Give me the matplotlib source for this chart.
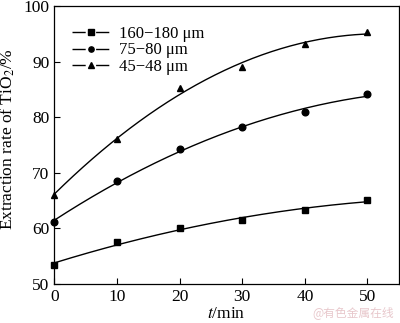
import numpy as np
import matplotlib
matplotlib.use("Agg")
import matplotlib.pyplot as plt
from matplotlib.lines import Line2D

# data
t_min = [0, 10, 20, 30, 40, 50]
rate_160_180 = [53.4, 57.6, 60.0, 61.5, 63.3, 65.1]
rate_75_80 = [61.2, 68.5, 74.2, 78.2, 80.9, 84.2]
rate_45_48 = [66.0, 76.1, 85.2, 89.0, 93.2, 95.3]
labels = ["160\u2212180 \u03bcm", "75\u221280 \u03bcm", "45\u221248 \u03bcm"]
markers = ["s", "o", "^"]

plt.rcParams['font.family'] = ['Liberation Serif', 'DejaVu Serif']
plt.rcParams['mathtext.fontset'] = 'stix'

fig = plt.figure(figsize=(4.0, 3.23), dpi=100)
ax = fig.add_axes([0.136, 0.121, 0.861, 0.860])

series = [rate_160_180, rate_75_80, rate_45_48]
t_fine = np.linspace(0, 50, 200)
handles = []
for vals, mk, lab in zip(series, markers, labels):
    # smooth fitted curve through the measured points
    coef = np.polyfit(t_min, vals, 2)
    ax.plot(t_fine, np.polyval(coef, t_fine), color='black', lw=1.0)
    ax.plot(t_min, vals, linestyle='none', marker=mk, color='black', markersize=4.8, clip_on=False)
    # legend handle: dash - marker - dash
    handles.append(Line2D([], [], color='black', lw=1.0, linestyle=(0, (9.5, 7.5)),
                          marker=mk, markersize=3.8))

ax.set_xlim(0, 55)
ax.set_ylim(50, 100)
ax.set_xticks([0, 10, 20, 30, 40, 50])
ax.set_yticks([50, 60, 70, 80, 90, 100])
ax.tick_params(direction='in', length=4, width=0.8, labelsize=12.5, top=False, right=False)
for s in ax.spines.values():
    s.set_linewidth(0.9)

ax.set_xlabel("$t$/min", fontsize=12.5, labelpad=1)
ax.set_ylabel("Extraction rate of TiO$_2$/%", fontsize=12.5)
ax.yaxis.set_label_coords(-0.108, 0.52)

ax.legend(handles, labels, loc='upper left', frameon=False, fontsize=12,
          handlelength=2.25, handletextpad=0.55, labelspacing=0.05,
          borderpad=0, borderaxespad=0, bbox_to_anchor=(0.051, 0.93))

fig.text(0.985, 0.012, "@有色金属在线", ha='right', va='bottom', fontsize=8.5,
         color='#e8c8cc', family=['Noto Sans CJK SC', 'DejaVu Sans'])

fig.savefig("out.png", dpi=100)
